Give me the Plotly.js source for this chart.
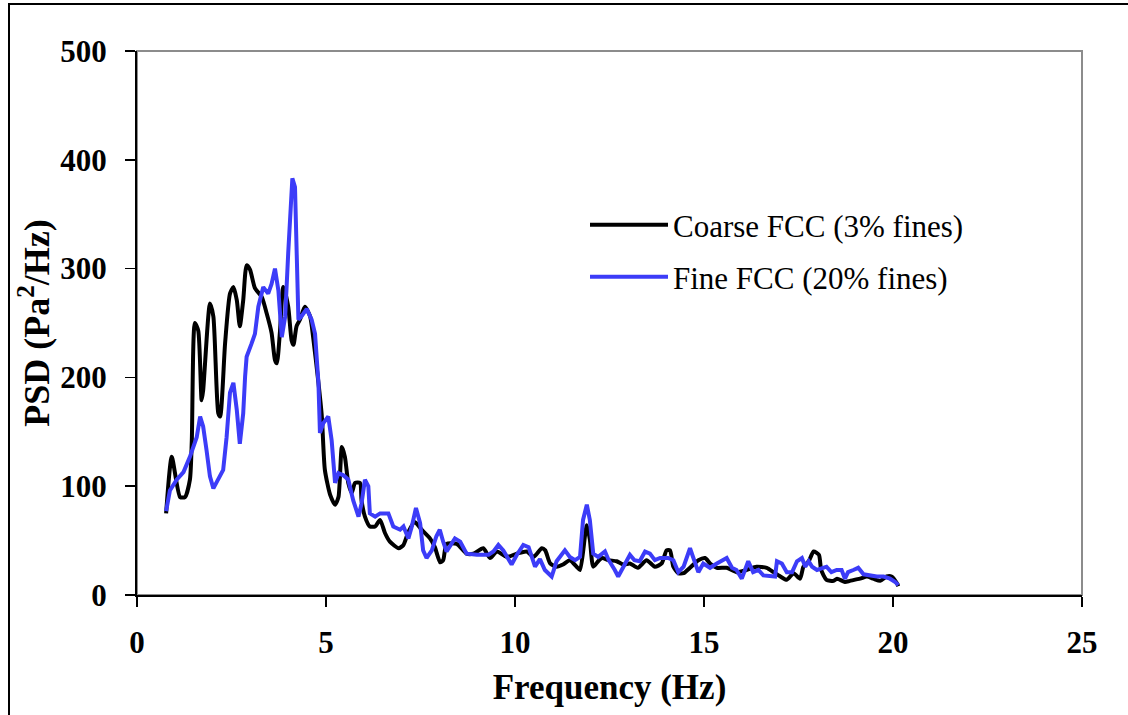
<!DOCTYPE html>
<html>
<head>
<meta charset="utf-8">
<script src="https://cdn.plot.ly/plotly-3.0.1.min.js"></script>
<style>
  html, body { margin: 0; padding: 0; background: #fff; }
  #chart { width: 1128px; height: 715px; }
</style>
</head>
<body>
<div id="chart"></div>
<script>
// Power spectral density of pressure fluctuations, two FCC powders
const coarseFreq = [0.77,0.92,1.14,1.27,1.40,1.45,1.53,1.62,1.71,1.75,1.93,2.02,2.15,2.20,2.33,2.46,2.55,2.64,2.72,2.81,2.90,2.99,3.12,3.30,3.43,3.56,3.65,3.70,3.78,3.87,4.00,4.09,4.14,4.22,4.31,4.44,4.58,4.66,4.80,4.89,4.97,5.11,5.24,5.33,5.42,5.50,5.59,5.68,5.77,5.90,5.94,6.03,6.16,6.30,6.43,6.56,6.69,6.92,7.05,7.18,7.35,7.53,7.75,7.88,8.02,8.10,8.19,8.46,8.72,8.90,9.16,9.34,9.52,9.78,10.05,10.31,10.49,10.71,10.80,10.93,11.10,11.27,11.45,11.63,11.72,11.85,11.90,11.98,12.07,12.20,12.30,12.48,12.69,12.87,13.04,13.25,13.48,13.70,13.88,14.01,14.10,14.19,14.32,14.46,14.63,14.85,15.03,15.16,15.34,15.60,15.86,16.12,16.39,16.66,16.84,17.02,17.19,17.37,17.54,17.63,17.77,17.90,18.04,18.10,18.24,18.43,18.52,18.73,18.86,19.13,19.31,19.48,19.66,19.83,19.96,20.10,20.14];
const coarsePSD = [75,127,90,90,106,142,250,243,179,188,268,256,167,164,231,277,283,271,247,271,303,299,282,274,259,241,216,213,241,283,265,234,230,247,253,265,256,237,195,164,115,92,83,90,136,127,103,94,103,103,87,72,63,63,69,57,49,43,46,58,67,60,52,44,30,32,47,47,38,38,43,34,40,35,38,40,35,43,41,29,26,28,32,26,23,54,64,51,26,31,34,32,31,28,29,25,32,26,29,41,41,26,20,20,25,32,34,29,25,25,21,23,26,25,21,17,14,20,15,26,31,40,37,23,14,13,15,12,13,15,17,15,13,17,17,11,8];

const fineFreq = [0.77,0.87,1.05,1.23,1.40,1.58,1.67,1.75,1.84,1.93,2.02,2.15,2.28,2.37,2.46,2.55,2.64,2.72,2.81,2.86,2.90,3.03,3.12,3.21,3.34,3.47,3.56,3.65,3.74,3.83,3.92,4.00,4.05,4.11,4.18,4.22,4.27,4.35,4.49,4.62,4.71,4.80,4.84,4.93,5.06,5.15,5.24,5.33,5.46,5.59,5.72,5.86,5.94,6.03,6.12,6.16,6.30,6.43,6.65,6.78,6.96,7.05,7.18,7.27,7.38,7.49,7.57,7.66,7.80,7.92,8.01,8.10,8.19,8.41,8.55,8.72,8.99,9.30,9.43,9.56,9.69,9.91,10.05,10.22,10.36,10.53,10.66,10.79,10.97,11.10,11.32,11.45,11.59,11.72,11.80,11.90,11.98,12.07,12.20,12.38,12.48,12.64,12.73,12.87,13.04,13.16,13.30,13.44,13.57,13.70,13.84,14.05,14.19,14.32,14.46,14.63,14.72,14.85,14.98,15.16,15.34,15.47,15.60,15.74,15.86,16.00,16.17,16.30,16.44,16.57,16.75,16.88,16.93,17.06,17.19,17.33,17.46,17.59,17.68,17.77,17.86,17.99,18.24,18.37,18.51,18.64,18.73,18.81,18.95,19.08,19.22,19.40,19.57,19.75,19.92,20.06,20.14];
const finePSD = [77,96,106,113,127,145,164,155,133,109,98,106,115,145,186,195,170,139,167,201,219,231,240,265,283,277,286,300,280,237,256,314,348,383,375,305,253,256,263,253,240,195,149,158,164,142,103,112,110,106,87,72,84,106,100,75,72,75,75,63,60,63,52,63,80,66,41,34,41,54,60,49,40,52,49,38,37,37,40,46,41,28,37,46,44,26,33,23,17,31,41,35,32,35,69,83,69,38,35,40,32,23,17,26,37,32,31,40,38,32,34,34,32,21,26,43,34,21,29,25,29,32,34,25,23,15,31,21,23,18,17,17,31,29,21,21,31,34,26,31,26,23,26,21,23,23,15,21,23,25,19,18,17,17,15,12,9];

const seriesNames = ['Coarse FCC (3% fines)', 'Fine FCC (20% fines)'];
const xTicks = [0, 5, 10, 15, 20, 25];
const yTicks = [0, 100, 200, 300, 400, 500];

const serif = 'Liberation Serif, Times New Roman, serif';

const traces = [
  {
    x: coarseFreq, y: coarsePSD, name: seriesNames[0],
    type: 'scatter', mode: 'lines',
    line: {color: '#000000', width: 4, shape: 'spline', smoothing: 0.6},
    legend: 'legend'
  },
  {
    x: fineFreq, y: finePSD, name: seriesNames[1],
    type: 'scatter', mode: 'lines',
    line: {color: '#3c3cf8', width: 4},
    legend: 'legend2'
  }
];

const legendCommon = {
  xref: 'paper', yref: 'paper', xanchor: 'left', yanchor: 'middle',
  bgcolor: 'rgba(0,0,0,0)', borderwidth: 0,
  font: {family: serif, size: 31, color: '#000'},
  itemwidth: 78
};

const layout = {
  width: 1128, height: 715,
  margin: {l: 137, r: 46, t: 51, b: 120},
  paper_bgcolor: '#ffffff', plot_bgcolor: '#ffffff',
  showlegend: true,
  legend: Object.assign({}, legendCommon, {x: (585 - 137) / 945, y: (595 - 225) / 544}),
  legend2: Object.assign({}, legendCommon, {x: (585 - 137) / 945, y: (595 - 277) / 544}),
  xaxis: {
    range: [0, 25], tickvals: xTicks, ticktext: xTicks.map(String),
    showgrid: false, zeroline: false,
    showline: true, linecolor: '#000', linewidth: 2,
    ticks: 'outside', ticklen: 10, tickwidth: 1.5, tickcolor: '#000',
    ticklabelstandoff: 9,
    tickfont: {family: serif, size: 31, color: '#000', weight: 'bold'},
    title: {text: '<b>Frequency (Hz)</b>', font: {family: serif, size: 35, color: '#000'}, standoff: 15}
  },
  yaxis: {
    range: [0, 500], tickvals: yTicks, ticktext: yTicks.map(String),
    showgrid: false, zeroline: false,
    showline: true, linecolor: '#000', linewidth: 2,
    ticks: 'outside', ticklen: 10, tickwidth: 1.5, tickcolor: '#000',
    ticklabelstandoff: 12,
    tickfont: {family: serif, size: 31, color: '#000', weight: 'bold'},
    title: {text: '<b>PSD (Pa<sup>2</sup>/Hz)</b>', font: {family: serif, size: 36, color: '#000'}, standoff: 0}
  },
  shapes: [
    // plot area frame (top and right edges in grey)
    {type: 'rect', xref: 'paper', yref: 'paper', x0: 0, x1: 1, y0: 0, y1: 1,
     line: {color: '#8c8c8c', width: 2}, layer: 'below'},
    // outer chart border
    {type: 'rect', xref: 'paper', yref: 'paper',
     x0: (9 - 137) / 945, x1: 1.2, y0: -0.4, y1: (595 - 4) / 544,
     line: {color: '#000', width: 2}, layer: 'below'}
  ]
};

Plotly.newPlot('chart', traces, layout, {displayModeBar: false, staticPlot: true});
</script>
</body>
</html>
